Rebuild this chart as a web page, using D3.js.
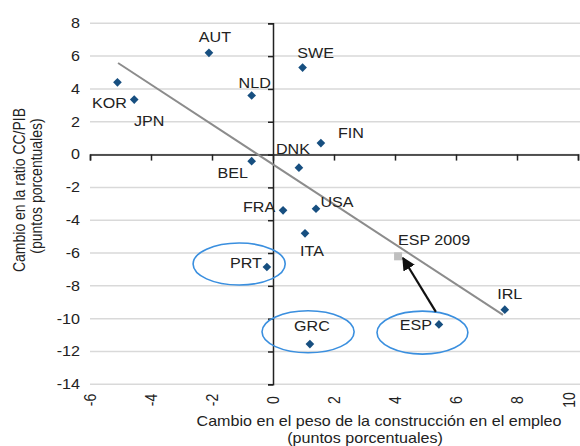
<!DOCTYPE html>
<html>
<head>
<meta charset="utf-8">
<script src="https://cdn.jsdelivr.net/npm/d3@7/dist/d3.min.js"></script>
<style>
body { margin: 0; background: #fff; }
text { font-family: "Liberation Sans", Arial, sans-serif; fill: #222; font-size: 14px; }
</style>
</head>
<body>
<svg id="chart" width="580" height="446"></svg>
<script>
// paises y valores
var countries = ["KOR","JPN","AUT","NLD","BEL","SWE","FIN","DNK","USA","FRA","ITA","PRT","GRC","ESP","IRL"];
var construccion = [-5.1,-4.55,-2.1,-0.7,-0.7,0.97,1.57,0.85,1.41,0.33,1.05,-0.2,1.21,5.44,7.6];
var ratioCC = [4.4,3.35,6.2,3.6,-0.4,5.3,0.7,-0.8,-3.3,-3.4,-4.8,-6.85,-11.55,-10.35,-9.45];

var esp2009 = {name: "ESP 2009", x: 4.1, y: -6.2};

// linea de tendencia (extremos)
var trendX = [-5.08, 7.54];
var trendY = [5.58, -9.77];

// flecha ESP -> ESP 2009
var arrowX = [5.34, 4.26];
var arrowY = [-9.59, -6.3];

// elipses: centro y radios en unidades de datos
var ellipses = [
	{cx: -1.11, cy: -6.67, rx: 1.51, ry: 1.28},
	{cx: 1.15, cy: -10.8, rx: 1.51, ry: 1.28},
	{cx: 4.9, cy: -10.85, rx: 1.49, ry: 1.31}
];

var xTicks = [-6,-4,-2,0,2,4,6,8,10];
var yTicks = [8,6,4,2,0,-2,-4,-6,-8,-10,-12,-14];

// desplazamiento de etiquetas (px)
var labelOffset = {
	KOR: [-8, 26], JPN: [15, 26], AUT: [6, -11], NLD: [3, -8], BEL: [-19, 17],
	SWE: [13, -10], FIN: [30, -5], DNK: [-6, -14], USA: [21, -2], FRA: [-24, 2],
	ITA: [7, 23], PRT: [-21, 1], GRC: [2, -13], ESP: [-23, 6], IRL: [5, -11]
};

var sx = 1.15; // el original esta algo estirado en horizontal

var svg = d3.select("#chart");

var x = d3.scaleLinear().domain([-6, 10]).range([90, 578]);
var y = d3.scaleLinear().domain([-14, 8]).range([384.3, 23.3]);

// lineas de cuadricula
svg.append("g")
	.selectAll("line")
	.data(yTicks)
	.enter().append("line")
	.attr("x1", x(-6)).attr("x2", 580)
	.attr("y1", d => y(d)).attr("y2", d => y(d))
	.attr("stroke", "#d9d9d9")
	.attr("stroke-width", 1.5);

// eje x en y=0
var xAxis = svg.append("g")
	.attr("transform", `translate(0,${y(0)})`)
	.call(d3.axisBottom(x).tickValues(xTicks).tickSize(6).tickFormat(""));
xAxis.select(".domain").attr("stroke", "#222").attr("stroke-width", 1.5);
xAxis.selectAll(".tick line").attr("stroke", "#222").attr("stroke-width", 1.5);

// eje y en x=0
var yAxis = svg.append("g")
	.attr("transform", `translate(${x(0)},0)`)
	.call(d3.axisLeft(y).tickValues(yTicks).tickSize(5).tickFormat(""));
yAxis.select(".domain").attr("stroke", "#222").attr("stroke-width", 1.5);
yAxis.selectAll(".tick line").attr("stroke", "#222").attr("stroke-width", 1.5);

// etiquetas de los ejes (posicion baja)
svg.append("g")
	.selectAll("text")
	.data(xTicks)
	.enter().append("text")
	.attr("transform", d => `translate(${Math.min(x(d), 569)},400) scale(${sx},1) rotate(-90)`)
	.attr("text-anchor", "middle")
	.attr("dy", "0.35em")
	.text(d => d);

svg.append("g")
	.selectAll("text")
	.data(yTicks)
	.enter().append("text")
	.attr("transform", d => `translate(80,${y(d)}) scale(${sx},1)`)
	.attr("text-anchor", "end")
	.attr("dy", "0.35em")
	.text(d => d);

// linea de tendencia
svg.append("line")
	.attr("x1", x(trendX[0])).attr("y1", y(trendY[0]))
	.attr("x2", x(trendX[1])).attr("y2", y(trendY[1]))
	.attr("stroke", "#8c8c8c")
	.attr("stroke-width", 2);

// elipses
svg.append("g")
	.selectAll("ellipse")
	.data(ellipses)
	.enter().append("ellipse")
	.attr("cx", d => x(d.cx))
	.attr("cy", d => y(d.cy))
	.attr("rx", d => x(d.rx) - x(0))
	.attr("ry", d => y(0) - y(d.ry))
	.attr("fill", "none")
	.attr("stroke", "#3a8fdf")
	.attr("stroke-width", 1.6);

// flecha
svg.append("defs").append("marker")
	.attr("id", "head")
	.attr("viewBox", "0 0 10 10")
	.attr("refX", 9).attr("refY", 5)
	.attr("markerWidth", 6).attr("markerHeight", 6)
	.attr("orient", "auto")
	.append("path")
	.attr("d", "M0,0L10,5L0,10z")
	.attr("fill", "#111");

svg.append("line")
	.attr("x1", x(arrowX[0])).attr("y1", y(arrowY[0]))
	.attr("x2", x(arrowX[1])).attr("y2", y(arrowY[1]))
	.attr("stroke", "#111")
	.attr("stroke-width", 2.2)
	.attr("marker-end", "url(#head)");

// puntos
var diamond = d3.symbol().type(d3.symbolDiamond2).size(48);
svg.append("g")
	.selectAll("path")
	.data(countries)
	.enter().append("path")
	.attr("d", diamond)
	.attr("transform", (d, i) => `translate(${x(construccion[i])},${y(ratioCC[i])})`)
	.attr("fill", "#174f80");

svg.append("rect")
	.attr("x", x(esp2009.x) - 4)
	.attr("y", y(esp2009.y) - 4)
	.attr("width", 8).attr("height", 8)
	.attr("fill", "#bfbfbf");

// etiquetas de paises
svg.append("g")
	.selectAll("text")
	.data(countries)
	.enter().append("text")
	.attr("transform", (d, i) => `translate(${x(construccion[i]) + labelOffset[d][0]},${y(ratioCC[i]) + labelOffset[d][1]}) scale(${sx},1)`)
	.attr("text-anchor", "middle")
	.text(d => d);

svg.append("text")
	.attr("transform", `translate(${x(esp2009.x) + 36},${y(esp2009.y) - 11}) scale(${sx},1)`)
	.attr("text-anchor", "middle")
	.text(esp2009.name);

// titulos
svg.append("text")
	.attr("transform", `translate(379,426) scale(${sx},1)`)
	.attr("text-anchor", "middle")
	.text("Cambio en el peso de la construcción en el empleo");
svg.append("text")
	.attr("transform", `translate(365,443) scale(${sx},1)`)
	.attr("text-anchor", "middle")
	.text("(puntos porcentuales)");

svg.append("text")
	.attr("transform", `translate(25,190) scale(${sx},1) rotate(-90)`)
	.attr("text-anchor", "middle")
	.text("Cambio en la ratio CC/PIB");
svg.append("text")
	.attr("transform", `translate(42,186) scale(${sx},1) rotate(-90)`)
	.attr("text-anchor", "middle")
	.text("(puntos porcentuales)");
</script>
</body>
</html>
